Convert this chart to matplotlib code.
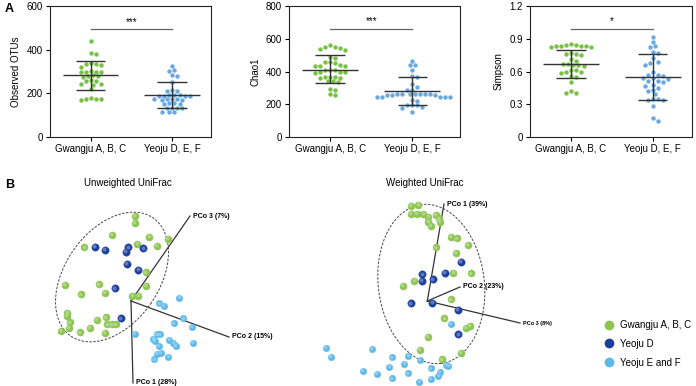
import numpy as np
import matplotlib
matplotlib.use("Agg")
import matplotlib.pyplot as plt
from matplotlib.patches import Ellipse
from matplotlib.lines import Line2D

plt.rcParams['font.family'] = ['Liberation Sans', 'DejaVu Sans']

# ---------------- data: panel A ----------------
groups = ['Gwangju A, B, C', 'Yeoju D, E, F']

otu_g = [439, 386, 380, 338, 335, 333, 330, 320, 302, 300, 300, 298, 296, 282, 280,
         278, 276, 260, 258, 256, 244, 242, 240, 222, 178, 175, 174, 172, 170]
otu_y = [326, 305, 301, 282, 278, 250, 213, 211, 209, 193, 192, 191, 190, 190, 189,
         188, 175, 174, 173, 172, 171, 170, 155, 154, 152, 151, 135, 134, 132, 131,
         116, 115, 114]
chao_g = [560, 552, 548, 545, 538, 532, 488, 482, 458, 455, 450, 438, 436, 434, 432,
          412, 410, 408, 398, 396, 394, 392, 368, 366, 364, 362, 360, 342, 340, 338,
          292, 288, 262, 255]
chao_y = [467, 441, 437, 408, 373, 369, 322, 306, 288, 284, 264, 263, 262, 262, 261,
          260, 260, 259, 258, 257, 247, 246, 245, 244, 243, 225, 222, 195, 194, 193,
          181, 179, 153]
simp_g = [0.85, 0.84, 0.84, 0.83, 0.83, 0.83, 0.83, 0.82, 0.82, 0.77, 0.76, 0.76,
          0.75, 0.71, 0.70, 0.67, 0.67, 0.66, 0.66, 0.65, 0.61, 0.61, 0.60, 0.60,
          0.59, 0.56, 0.55, 0.50, 0.42, 0.40, 0.40]
simp_y = [0.92, 0.87, 0.83, 0.82, 0.78, 0.77, 0.72, 0.69, 0.68, 0.66, 0.60, 0.57,
          0.57, 0.56, 0.54, 0.54, 0.53, 0.51, 0.51, 0.50, 0.48, 0.47, 0.45, 0.43,
          0.42, 0.39, 0.35, 0.35, 0.34, 0.34, 0.28, 0.17, 0.15]

# mean and mean +/- SD
otu_mean, otu_hi, otu_lo = [283, 194], [350, 251], [217, 135]
chao_mean, chao_hi, chao_lo = [412, 283], [498, 365], [328, 196]
simp_mean, simp_hi, simp_lo = [0.667, 0.554], [0.80, 0.762], [0.539, 0.34]

ylabels = ['Observed OTUs', 'Chao1', 'Simpson']
ymaxs = [600, 800, 1.2]
yticks = [[0, 200, 400, 600], [0, 200, 400, 600, 800], [0, 0.3, 0.6, 0.9, 1.2]]
yticklabels = [['0', '200', '400', '600'], ['0', '200', '400', '600', '800'],
               ['0', '0.3', '0.6', '0.9', '1.2']]
sig_y = [493, 659, 0.989]
sig_txt = ['***', '***', '*']

# ---------------- data: panel B (projected PCoA coordinates) ----------------
uw_green_x = [4, 4, -19.3, 18.3, 36.7, 25.7, 6.3, -46.7, 14.7, -66, -32, -50, -26, 14.7,
              1.3, 7.3, -63.7, -64.3, -61, -70.3, -62, -51, -41, -34.3, -25, -23.7,
              -19.3, -15.3, -26]
uw_green_y = [85, 78.3, 66, 64.3, 62, 55.3, 57, 53.7, 28.7, 16, 16.7, 6.7, 8.3, 15.3,
              5.3, 5.3, -11.7, -15, -21.3, -29.7, -26.7, -31.3, -26.7, -19, -16.3,
              -23.3, -23.3, -23.3, -31.7]
uw_dark_x = [-36, -26, -5, -2.7, 12.3, -4.3, 7.3, -16, -10.3]
uw_dark_y = [54.3, 51, 49.3, 53.7, 52.7, 37, 31, 12.7, -17.3]
uw_light_x = [28.3, 33, 48.3, 52.3, 43, 60.7, 4, 25.7, 29, 22.3, 24, 38.3, 42.3, 44.7,
              61.7, 28, 25.7, 30, 37.3, 23.3]
uw_light_y = [-2.3, -4.7, 3.3, -17.3, -22.3, -25.7, -33, -33.3, -33.3, -38, -39.7, -39,
              -41.7, -45, -41.7, -44.7, -53, -51.7, -55.7, -58.3]
uw_axes_end = [(2, -82), (98, -36), (59, 85)]
uw_axes_lab = ['PCo 1 (28%)', 'PCo 2 (15%)', 'PCo 3 (7%)']

w_green_x = [-16.6, -9, -16.6, -10.6, -4, 1, 8.4, 11.7, 12.7, 1, 3.7, 23.4, 29.4, 40.4,
             8.7, 28.7, 26, 43.7, -24.6, -13, 23.7, 17, 38.7, 42.7, 0.4, -7.3, 33.7, 14.4]
w_green_y = [95, 96, 87, 87, 87, 84.3, 86, 82.7, 79.3, 79.3, 75.3, 64.3, 62.7, 56, 53.7,
             48.3, 28.3, 27.7, 15.3, 20.3, 1.7, -17.3, -26.7, -25, -35.7, -49, -51.7, -58.3]
w_dark_x = [33.4, 17.7, -5, -5.6, 5.4, -16.6, 5, 30.4, 31]
w_dark_y = [39.3, 28.3, 26.7, 20, 21.7, -2.3, -1.7, -9, -33.3]
w_light_x = [23.4, -101.3, -96.3, -55.6, -35.6, -19, -23, -7.3, -38, -64.6, -50.3, -35.6,
             -19.6, 3.7, 12.7, 11, 18.4, 21, -8, 3.4]
w_light_y = [-23, -46.7, -55.7, -48, -56.3, -55, -63, -59, -65.7, -69.7, -72.7, -77.3,
             -72.3, -67.3, -70.7, -74.7, -64, -65, -80.7, -77.7]
w_axes_end = [(16.7, 97), (32.7, 14), (92.7, -22)]
w_axes_lab = ['PCo 1 (39%)', 'PCo 2 (23%)', 'PCo 3 (8%)']

legend_labels = ['Gwangju A, B, C', 'Yeoju D', 'Yeoju E and F']

# colours
c_gdot = '#78c146'
c_bdot = '#6aa8e2'
c_green = '#8dc452'
c_dark = '#1d3f9c'
c_light = '#5cb9ea'
c_err = '#333333'


def swarm_offsets(vals, ymax, h_px, px_per_x, d=4.6):
    # simple beeswarm: place each point as near centre as possible without overlap
    vals = np.asarray(vals, dtype=float)
    ypx = vals / ymax * h_px
    order = np.argsort(-ypx)
    placed = []
    offs = np.zeros(len(vals))
    step = d * 0.55
    for i in order:
        k = 0
        while True:
            cands = [0.0] if k == 0 else [k * step, -k * step]
            ok = None
            for c in cands:
                if all((c - px) ** 2 + (ypx[i] - py) ** 2 >= d ** 2 for px, py in placed):
                    ok = c
                    break
            if ok is not None:
                placed.append((ok, ypx[i]))
                offs[i] = ok / px_per_x
                break
            k += 1
    return offs


fig = plt.figure(figsize=(6.96, 3.86), dpi=100)
W, H = 696.0, 386.0

ax_px = [(50, 161), (289, 171), (530, 162)]
data_a = [(otu_g, otu_y), (chao_g, chao_y), (simp_g, simp_y)]
stats_a = [(otu_mean, otu_hi, otu_lo), (chao_mean, chao_hi, chao_lo),
           (simp_mean, simp_hi, simp_lo)]
xlims = [(-0.5, 1.48), (-0.5, 1.58), (-0.5, 1.48)]

for k in range(3):
    left, wid = ax_px[k]
    ax = fig.add_axes([left / W, (H - 137) / H, wid / W, 131 / H])
    x0, x1 = xlims[k]
    px_per_x = wid / (x1 - x0)
    for j, vals in enumerate(data_a[k]):
        offs = swarm_offsets(vals, ymaxs[k], 131, px_per_x)
        ax.scatter(j + offs, vals, s=10, color=[c_gdot, c_bdot][j], linewidths=0, zorder=2)
        m, hi, lo = stats_a[k][0][j], stats_a[k][1][j], stats_a[k][2][j]
        ax.hlines(m, j - 0.34, j + 0.34, color=c_err, lw=1.0, zorder=3)
        ax.hlines([hi, lo], j - 0.18, j + 0.18, color=c_err, lw=1.0, zorder=3)
        ax.vlines(j, lo, hi, color=c_err, lw=1.0, zorder=3)
    ax.plot([0, 1], [sig_y[k], sig_y[k]], color='#666666', lw=0.9)
    ax.text(0.5, sig_y[k] + ymaxs[k] * 0.02, sig_txt[k], ha='center', va='bottom', fontsize=7)
    ax.set_xlim(x0, x1)
    ax.set_ylim(0, ymaxs[k])
    ax.set_xticks([0, 1])
    ax.set_xticklabels(groups, fontsize=7)
    ax.set_yticks(yticks[k])
    ax.set_yticklabels(yticklabels[k], fontsize=7)
    ax.set_ylabel(ylabels[k], fontsize=7)
    ax.tick_params(length=3, width=0.8, pad=2)
    for sp in ax.spines.values():
        sp.set_linewidth(0.8)
        sp.set_color('#222222')

fig.text(5 / W, 1 - 12 / H, 'A', fontsize=9, fontweight='bold')
fig.text(5 / W, 1 - 188 / H, 'B', fontsize=9, fontweight='bold')
fig.text(128 / W, 1 - 186 / H, 'Unweighted UniFrac', fontsize=7, ha='center')
fig.text(425 / W, 1 - 186 / H, 'Weighted UniFrac', fontsize=7, ha='center')


def spheres(ax, x, y, color, s):
    x = np.asarray(x)
    y = np.asarray(y)
    ax.scatter(x, y, s=s, color=color, linewidths=0.3, edgecolors=color, zorder=3)
    ax.scatter(x - 0.8, y + 0.8, s=s * 0.3, color='white', alpha=0.3, linewidths=0, zorder=4)


def pcoa_panel(rect, xlim, ylim, pts, ends, labs, ell, lab_sizes):
    ax = fig.add_axes(rect)
    ax.set_xlim(*xlim)
    ax.set_ylim(*ylim)
    ax.axis('off')
    for (ex, ey), lab, fs in zip(ends, labs, lab_sizes):
        ax.plot([0, ex], [0, ey], color='#333333', lw=0.9, zorder=2)
        ax.text(ex + 3, ey, lab, fontsize=fs, fontweight='bold', ha='left', va='center')
    cx, cy, ew, eh, ang = ell
    ax.add_patch(Ellipse((cx, cy), ew, eh, angle=ang, fill=False, ls=(0, (2.5, 1.5)),
                         lw=0.7, color='#444444', zorder=1))
    (gx, gy), (dx, dy), (lx, ly) = pts
    spheres(ax, gx, gy, c_green, 26)
    spheres(ax, dx, dy, c_dark, 28)
    spheres(ax, lx, ly, c_light, 22)
    return ax


pcoa_panel([0, 0, 290 / W, 196 / H], (-131, 159), (-85, 111),
           [(uw_green_x, uw_green_y), (uw_dark_x, uw_dark_y), (uw_light_x, uw_light_y)],
           uw_axes_end, uw_axes_lab, (-19, 24, 144, 94, 55), [5, 5, 5])
pcoa_panel([300 / W, 0, 300 / W, 196 / H], (-127.3, 172.7), (-85, 111),
           [(w_green_x, w_green_y), (w_dark_x, w_dark_y), (w_light_x, w_light_y)],
           w_axes_end, w_axes_lab, (4, 17, 106, 160, 7), [5, 5, 4])

handles = [Line2D([], [], ls='none', marker='o', markersize=6, color=c)
           for c in [c_green, c_dark, c_light]]
fig.legend(handles, legend_labels, loc='upper left', bbox_to_anchor=(603 / W, 1 - 320 / H),
           frameon=False, fontsize=7, labelspacing=0.9, handletextpad=0.5,
           borderaxespad=0, borderpad=0, handlelength=1.2)

fig.savefig('out.png', dpi=100)
